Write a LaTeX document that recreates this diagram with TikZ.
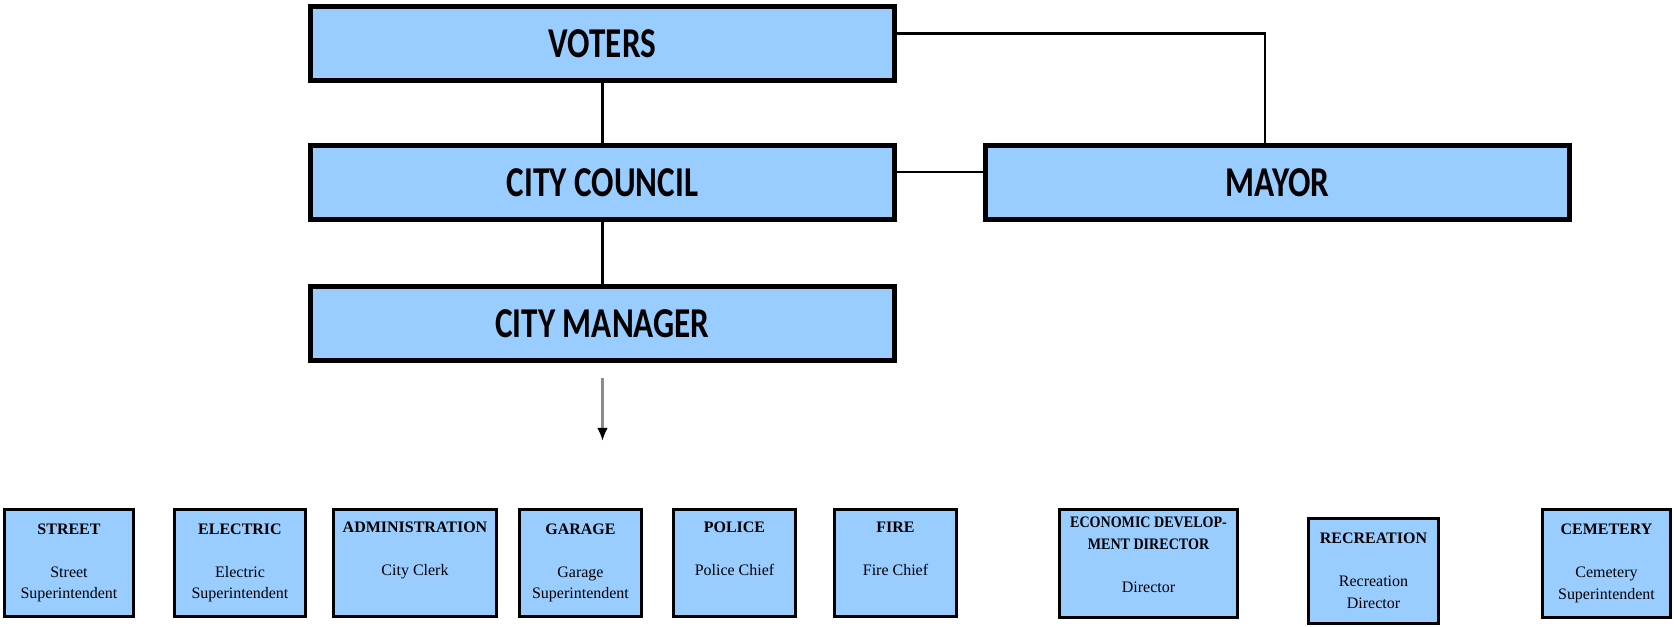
\documentclass[tikz,border=0pt]{standalone}
\usepackage{fontspec}
\setmainfont{Liberation Serif}
\newfontfamily\condfont{Carlito}[FakeStretch=0.78]
\newfontfamily\narrowserif{Liberation Serif}[FakeStretch=0.88]
\usepackage{tikz}
\usetikzlibrary{arrows.meta,positioning}
\definecolor{boxblue}{HTML}{99CCFF}
\definecolor{linkgray}{HTML}{8C8C8C}

\begin{document}
\begin{tikzpicture}[
    govbox/.style={draw,line width=1.4pt,fill=boxblue,minimum width=5.84cm,minimum height=0.74cm,font=\condfont\bfseries\fontsize{12.1}{14}\selectfont},
    deptbox/.style={draw,line width=1pt,fill=boxblue,align=center,inner sep=0pt,minimum height=1.07cm,font=\fontsize{4.55}{6.2}\selectfont},
    link/.style={line width=0.6pt}]
    \useasboundingbox (0,0) rectangle (16.74,-6.26);
    % elected side
    \node[govbox] (voters) at (6.025,-0.435) {VOTERS};
    \node[govbox,below=0.6cm of voters] (council) {CITY COUNCIL};
    \node[govbox,below=0.62cm of council] (manager) {CITY MANAGER};
    \node[govbox,right=0.86cm of council] (mayor) {MAYOR};
    \draw[link] (voters) -- (council);
    \draw[link] (council) -- (manager);
    \draw[link] ([yshift=1mm]voters.east) -| ([xshift=-1.2mm]mayor.north);
    \draw[link] ([yshift=1mm]council.east) -- ([yshift=1mm]mayor.west);
    \coordinate[below=0.78cm of manager.south] (handoff);
    \draw[line width=0.7pt,linkgray,-{Latex[length=1.3mm,width=1.1mm,color=black]}] ([yshift=-1.5mm]manager.south) -- (handoff);
    % departments
    \node[deptbox,minimum width=1.29cm] (street) at (0.69,-5.63) {\textbf{STREET}\\[6pt]Street\\Superintendent};
    \node[deptbox,minimum width=1.31cm] (electric) at (2.40,-5.63) {\textbf{ELECTRIC}\\[6pt]Electric\\Superintendent};
    \node[deptbox,minimum width=1.63cm] (admin) at (4.15,-5.63) {\textbf{ADMINISTRATION}\\[6pt]City Clerk\\\strut};
    \node[deptbox,minimum width=1.22cm] (garage) at (5.805,-5.63) {\textbf{GARAGE}\\[6pt]Garage\\Superintendent};
    \node[deptbox,minimum width=1.22cm] (police) at (7.345,-5.63) {\textbf{POLICE}\\[6pt]Police Chief\\\strut};
    \node[deptbox,minimum width=1.22cm] (fire) at (8.955,-5.63) {\textbf{FIRE}\\[6pt]Fire Chief\\\strut};
    \node[deptbox,minimum width=1.78cm,minimum height=1.08cm] (econ) at (11.485,-5.635) {{\narrowserif\bfseries ECONOMIC DEVELOP-}\\{\narrowserif\bfseries MENT DIRECTOR}\\[6pt]Director\\[-3.1pt]\strut};
    \node[deptbox,minimum width=1.30cm,minimum height=1.05cm] (recreation) at (13.735,-5.71) {\textbf{RECREATION}\\[6pt]Recreation\\Director};
    \node[deptbox,minimum width=1.28cm,minimum height=1.08cm] (cemetery) at (16.065,-5.635) {\textbf{CEMETERY}\\[6pt]Cemetery\\Superintendent};
\end{tikzpicture}
\end{document}
